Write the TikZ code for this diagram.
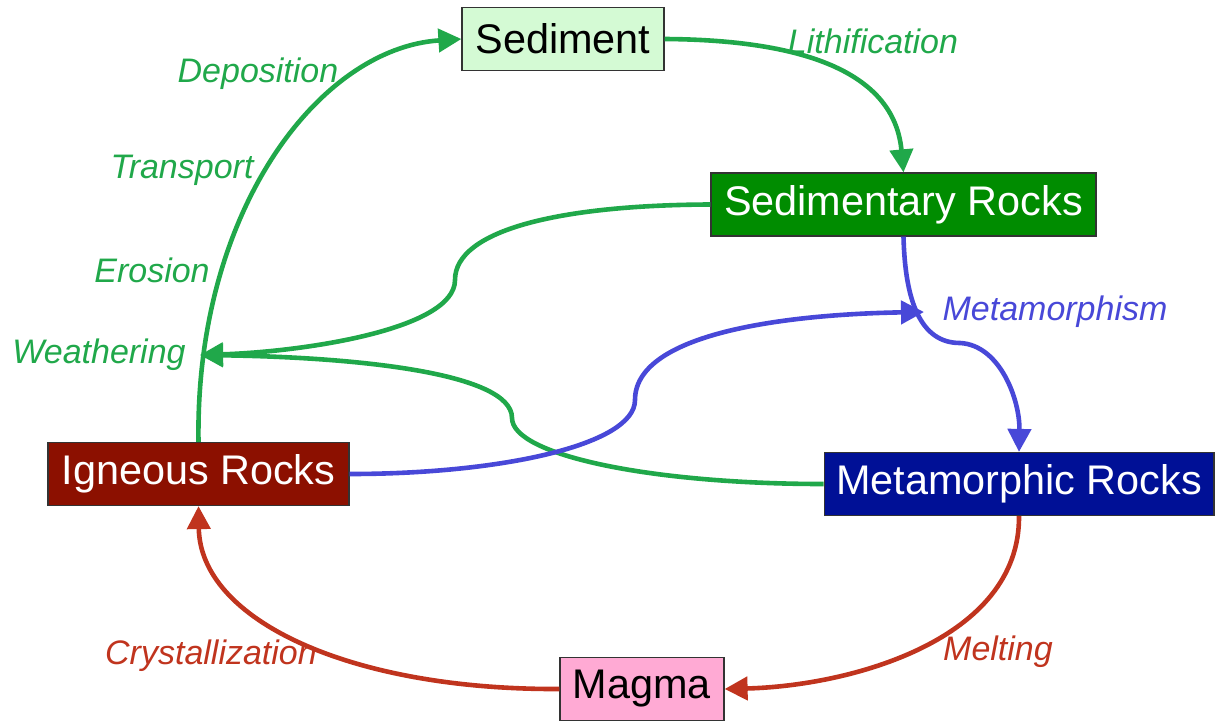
\documentclass[tikz,border=0pt]{standalone}
\usepackage{fontspec}
\setmainfont{Liberation Sans}
\usepackage{tikz}
\usetikzlibrary{arrows.meta}
\usetikzlibrary{positioning}

\definecolor{cyclegreen}{RGB}{32,168,74}
\definecolor{cycleblue}{RGB}{72,72,216}
\definecolor{cyclered}{RGB}{192,52,30}
\definecolor{sedfill}{RGB}{212,250,212}
\definecolor{sedrockfill}{RGB}{0,140,0}
\definecolor{metfill}{RGB}{0,16,150}
\definecolor{ignfill}{RGB}{140,16,0}
\definecolor{magfill}{RGB}{255,170,212}

\tikzset{rockbox/.style={draw=black!80, line width=0.6pt, inner xsep=6pt, minimum height=31.5pt, font=\fontsize{20.7}{22}\selectfont}}
\tikzset{process/.style={font=\fontsize{17}{19}\selectfont\itshape}}
\tikzset{cycleline/.style={line width=2.3pt, -{Triangle[length=11.5pt,width=11.5pt]}}}

\begin{document}
\begin{tikzpicture}[x=0.5pt,y=-0.5pt]
		\useasboundingbox (0,0) rectangle (1215,723);
		% rock boxes
		\node[rockbox, fill=sedfill, text=black, minimum width=101pt] (sed) at (563,39) {Sediment};
		\node[rockbox, fill=sedrockfill, text=white, minimum width=192.5pt] (sedr) at (903.5,204.5) {Sedimentary Rocks};
		\node[rockbox, fill=metfill, text=white, minimum width=194pt] (met) at (1019,484) {Metamorphic Rocks};
		\node[rockbox, fill=ignfill, text=white, minimum width=150.5pt] (ign) at (198.5,474) {Igneous Rocks};
		\node[rockbox, fill=magfill, text=black, minimum width=82pt] (mag) at (642,689) {Magma};
		% process labels
		\node[process, text=cyclegreen] (depo) at (258,74) {Deposition};
		\node[process, text=cyclegreen] (trans) at (182,170) {Transport};
		\node[process, text=cyclegreen] (eros) at (152,270) {Erosion};
		\node[process, text=cyclegreen] (weath) at (99,355) {Weathering};
		\node[process, text=cyclegreen] (lith) at (873,41) {Lithification};
		\node[process, text=cycleblue] (metam) at (1055,312) {Metamorphism};
		\node[process, text=cyclered] (melt) at (998,652) {Melting};
		\node[process, text=cyclered] (cryst) at (211,656) {Crystallization};
		\coordinate (wpt) at (200,355);
		\coordinate (mpt) at (924,312);
		% green part of the cycle
		\draw[cycleline, cyclegreen] (ign.north) .. controls (195,210) and (320,48) .. (sed.west);
		\draw[cycleline, cyclegreen] (sed.east) .. controls (820,40) and (895,80) .. (sedr.north);
		\draw[cycleline, cyclegreen] (sedr.west) .. controls (560,205) and (455,230) .. (455,280) .. controls (455,330) and (300,352) .. (wpt);
		\draw[cycleline, cyclegreen] (met.west) .. controls (650,484) and (512,455) .. (512,418) .. controls (512,372) and (350,357) .. (wpt);
		% blue part
		\draw[cycleline, cycleblue] (sedr.south) .. controls (905,300) and (920,343) .. (960,343) .. controls (1000,345) and (1020,400) .. (met.north);
		\draw[cycleline, cycleblue] (ign.east) .. controls (500,474) and (635,445) .. (635,400) .. controls (635,330) and (800,314) .. (mpt);
		% red part
		\draw[cycleline, cyclered] (met.south) .. controls (1020,640) and (850,686) .. (mag.east);
		\draw[cycleline, cyclered] (mag.west) .. controls (350,690) and (200,620) .. (ign.south);
	\end{tikzpicture}
\end{document}
